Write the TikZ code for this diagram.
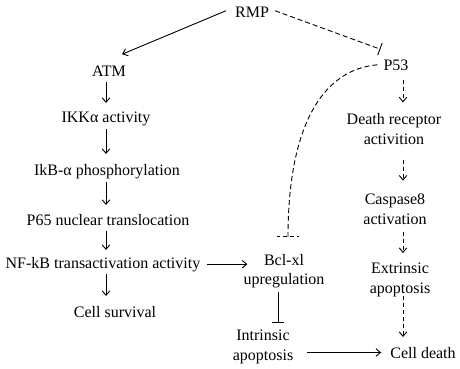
\documentclass[tikz,border=0pt]{standalone}
\usepackage{fontspec}
\setmainfont{Liberation Serif}
\usetikzlibrary{arrows.meta,calc}
\begin{document}
\begin{tikzpicture}[x=1pt,y=-1pt,
  lbl/.style={font=\fontsize{16}{19.5}\selectfont, inner sep=2pt, align=center},
  arr/.style={-{Straight Barb[length=4.5pt,width=7.5pt]}, line width=0.9pt},
  darr/.style={arr, dash pattern=on 4pt off 3pt},
  dline/.style={line width=0.9pt, dash pattern=on 5pt off 3pt},
  inh/.style={-{Bar[width=12pt,line width=0.9pt]}, line width=0.9pt},
  dinh/.style={-{Bar[width=13pt,line width=0.9pt]}, line width=0.9pt, dash pattern=on 5pt off 3pt}]
\useasboundingbox (0,0) rectangle (460,368);
% left column
\node[lbl,anchor=base] (rmp) at (252,17) {RMP};
\node[lbl,anchor=base] (atm) at (109,76) {ATM};
\node[lbl,anchor=base] (ikk) at (106,122) {IKKα activity};
\node[lbl,anchor=base] (ikb) at (107,175) {IkB-α phosphorylation};
\node[lbl,anchor=base] (p65) at (108,225) {P65 nuclear translocation};
\node[lbl,anchor=base] (nf) at (103,268) {NF-kB transactivation activity};
\node[lbl,anchor=base] (cs) at (115,317) {Cell survival};
% right column
\node[lbl,anchor=base] (p53) at (396,70) {P53};
\node[lbl] (dr) at (394,129) {Death receptor\\activition};
\node[lbl] (casp) at (395,209) {Caspase8\\activation};
\node[lbl] (ext) at (400,280) {Extrinsic\\apoptosis};
\node[lbl] (bcl) at (284,271) {Bcl-xl\\upregulation};
\node[lbl] (intr) at (263,347) {Intrinsic\\apoptosis};
\node[lbl,anchor=base] (cd) at (423,358) {Cell death};
\coordinate (lx) at (106,0);
\coordinate (rx) at (403,0);
% top connectors
\draw[arr] ($(rmp.west)+(-7,-1)$) -- ($(atm.north east)+(-6,-9)$);
\draw[dinh] ($(rmp.east)+(4,-1)$) -- ($(p53.north west)+(-1,-8)$);
% left chain
\draw[arr] ($(atm.base -| lx)+(0,6)$) -- ($(ikk.base -| lx)+(0,-19)$);
\draw[arr] ($(ikk.base -| lx)+(0,7)$) -- ($(ikb.base -| lx)+(0,-21)$);
\draw[arr] ($(ikb.base -| lx)+(0,7)$) -- ($(p65.base -| lx)+(0,-20)$);
\draw[arr] ($(p65.base -| lx)+(0,6)$) -- ($(nf.base -| lx)+(0,-18)$);
\draw[arr] ($(nf.base -| lx)+(0,6)$) -- ($(cs.base -| lx)+(0,-21)$);
% NF-kB to Bcl-xl
\draw[arr] ($(nf.east)+(4,0)$) -- ($(nf.east -| bcl.west)+(6,0)$);
% Bcl-xl inhibits intrinsic apoptosis
\draw[inh] ($(bcl.south)+(-6,2)$) -- ($(bcl.south |- intr.north)+(-6,-5)$);
% intrinsic to cell death
\draw[arr] ($(intr.east |- cd.west)+(12,0)$) -- ($(cd.west)+(-7,0)$);
% P53 curve inhibiting Bcl-xl
\coordinate (bend) at ($(bcl.north)+(4,-15)$);
\draw[dline] ($(p53.west)+(-4,0)$) .. controls +(-57,5) and +(0,-107) .. (bend);
\draw[line width=0.9pt, dash pattern=on 4pt off 3pt, dash phase=1pt] ($(bend)+(-11,0)$) -- ($(bend)+(11,0)$);
% right chain
\draw[darr] ($(p53.south -| rx)+(0,8)$) -- ($(dr.north -| rx)+(0,-9)$);
\draw[darr] ($(dr.south -| rx)+(0,13)$) -- ($(casp.north -| rx)+(0,-11)$);
\draw[darr] ($(casp.south -| rx)+(0,6)$) -- ($(ext.north -| rx)+(0,-8)$);
\draw[darr] ($(ext.south -| rx)+(0,-3)$) -- ($(cd.base -| rx)+(0,-21)$);
\end{tikzpicture}
\end{document}
